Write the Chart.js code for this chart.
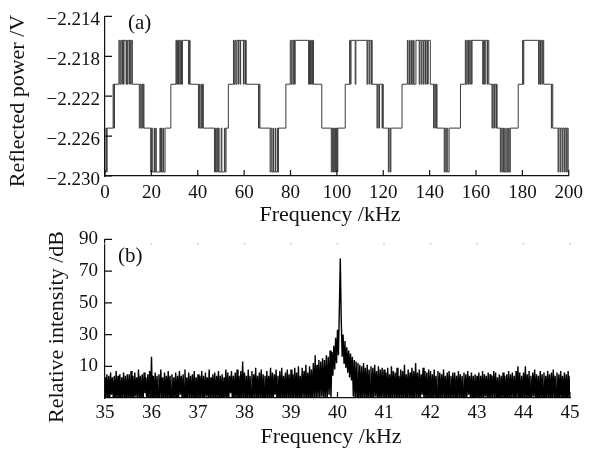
<!DOCTYPE html>
<html>
<head>
<meta charset="utf-8">
<script src="https://cdn.jsdelivr.net/npm/chart.js@4.4.1/dist/chart.umd.min.js"></script>
<style>
  html, body { margin: 0; padding: 0; background: #fff; }
  #wrap { position: relative; width: 589px; height: 451px; overflow: hidden; background: #fff; }
  canvas { position: absolute; left: 0; }
  #ca { top: 0; }
  #cb { top: 221px; }
</style>
</head>
<body>
<div id="wrap">
  <canvas id="ca" width="589" height="232"></canvas>
  <canvas id="cb" width="589" height="230"></canvas>
</div>
<script>
// ---- (a) reflected power: quantised levels and the switching points ----
const levelVolts = [-2.2164, -2.2208, -2.2252, -2.2296]; // level 1 (top) .. 4 (bottom)

// frequency (kHz) at which the trace switches, and the level it switches to
const stepFreq = [
  0, 0.4, 0.7, 0.9,
  3.5, 3.8, 4.1,
  6.0, 6.4, 6.8, 7.3, 7.5, 8.0, 8.2, 9.1, 9.3, 9.6, 9.9, 10.5, 10.7, 11.1, 11.3, 11.8,
  14.8, 15.2, 15.6, 16.0, 16.3, 16.5, 16.8,
  19.7, 20.0, 20.4, 21.2, 21.4, 21.9, 22.1, 23.7, 23.9, 24.4, 24.6, 25.1, 25.3, 25.9,
  28.4,
  30.6, 30.9, 31.3, 31.7, 32.0, 32.4, 32.7, 33.0, 33.4,
  36.0, 36.4, 36.7,
  40.3, 40.7, 41.0, 41.5, 41.8, 42.1, 42.4,
  47.2, 47.6, 47.8, 48.2, 48.6, 48.9, 49.2, 50.1, 50.4, 51.5, 51.8, 52.2,
  53.2,
  55.4, 55.7, 56.1, 56.5, 56.9, 57.5, 57.7, 58.3, 58.5, 59.7, 59.9, 60.4, 60.6, 60.9,
  66.2, 66.5, 66.8,
  71.2, 71.6, 72.0, 72.5, 72.7, 73.4, 73.6, 74.3, 74.5, 74.8,
  78.0,
  79.9, 80.3, 80.7, 81.2, 81.5, 81.8, 82.0,
  87.8, 88.2, 88.6, 89.0, 89.4, 89.6, 89.9,
  93.5,
  97.6, 97.9, 98.2, 98.6, 98.9, 99.3, 99.5, 99.8, 100.2, 100.4,
  103.6,
  105.5, 105.8, 106.1, 107.9, 108.2,
  113.0, 113.3, 113.9, 114.2, 114.8, 115.0, 115.2,
  117.3, 117.6, 118.1, 118.4, 119.5, 119.7, 120.0,
  122.2, 122.5, 123.0, 123.3,
  128.1,
  130.4, 130.7, 131.3, 131.6, 132.2, 132.5, 133.0, 133.3, 134.1,
  135.5, 135.8, 136.4, 136.7, 137.3, 137.6, 138.2, 138.5, 139.1, 139.4, 140.3,
  141.7, 142.0, 142.6, 142.9, 143.2,
  146.3, 146.6, 147.0, 147.4, 147.8, 148.4,
  153.3,
  155.4, 155.7, 156.1, 156.5, 156.8, 157.3, 157.5, 158.0, 158.3,
  162.9, 163.2, 163.7, 164.0, 164.8, 165.0, 165.5,
  166.9, 167.2, 167.7, 168.0, 168.6, 168.8, 169.1,
  170.5, 170.8, 171.2, 171.6, 171.9, 172.4, 172.6, 173.3, 173.5, 174.1, 174.3, 174.8,
  178.2,
  180.1, 180.3, 180.6,
  187.0, 187.3, 187.8, 188.1, 188.6, 188.9, 189.2,
  192.5, 192.7, 193.1,
  195.4, 195.7, 196.3, 196.6, 197.2, 197.5, 198.1, 198.4, 198.9, 199.2, 199.6, 200
];
const stepLevel = [
  4, 3, 4, 3,
  2, 3, 2,
  1, 2, 1, 2, 1, 2, 1, 2, 1, 2, 1, 2, 1, 2, 1, 2,
  3, 2, 3, 2, 3, 2, 3,
  4, 3, 4, 3, 4, 3, 4, 3, 4, 3, 4, 3, 4, 3,
  2,
  1, 2, 1, 2, 1, 2, 1, 2, 1,
  2, 1, 2,
  3, 2, 3, 2, 3, 2, 3,
  4, 3, 4, 3, 4, 3, 4, 3, 4, 3, 4, 3,
  2,
  1, 2, 1, 2, 1, 2, 1, 2, 1, 2, 1, 2, 1, 2,
  3, 2, 3,
  4, 3, 4, 3, 4, 3, 4, 3, 4, 3,
  2,
  1, 2, 1, 2, 1, 2, 1,
  2, 1, 2, 1, 2, 1, 2,
  3,
  4, 3, 4, 3, 4, 3, 4, 3, 4, 3,
  2,
  1, 2, 1, 2, 1,
  2, 1, 2, 1, 2, 1, 2,
  3, 2, 3, 2, 3, 2, 3,
  4, 3, 4, 3,
  2,
  1, 2, 1, 2, 1, 2, 1, 2, 1,
  2, 1, 2, 1, 2, 1, 2, 1, 2, 1, 2,
  3, 2, 3, 2, 3,
  4, 3, 4, 3, 4, 3,
  2,
  1, 2, 1, 2, 1, 2, 1, 2, 1,
  2, 1, 2, 1, 2, 1, 2,
  3, 2, 3, 2, 3, 2, 3,
  4, 3, 4, 3, 4, 3, 4, 3, 4, 3, 4, 3,
  2,
  1, 2, 1,
  2, 1, 2, 1, 2, 1, 2,
  3, 2, 3,
  4, 3, 4, 3, 4, 3, 4, 3, 4, 3, 4, 3
];
const aTicksX = [0, 20, 40, 60, 80, 100, 120, 140, 160, 180, 200];
const aTicksY = [-2.230, -2.226, -2.222, -2.218, -2.214];

// ---- (b) spectrum around 40 kHz (dB), sampled every 0.02 kHz from 35 kHz ----
const specStart = 35;
const specStep = 0.02;
const specDb = [
  3,-12,5,-11,4,-13,6,-8,3,-12,4,-14,7,-11,4,-12,5,-13,3,-10,6,-12,4,-13,5,
  -11,5,-13,7,-12,4,-14,6,-9,3,-12,8,-11,4,-13,5,-12,6,-7,3,-14,5,-12,7,-11,
  16,-12,4,-13,6,-11,4,-14,5,-12,8,-10,3,-13,6,-12,4,-11,7,-13,4,-14,5,-12,3,
  -11,6,-13,4,-12,7,-8,4,-13,5,-11,8,-14,3,-12,6,-10,4,-13,5,-12,7,-14,3,-11,
  5,-13,4,-11,7,-12,4,-14,6,-9,3,-12,8,-13,3,-11,5,-12,6,-13,4,-10,7,-14,4,
  -12,5,-13,3,-11,8,-14,6,-12,4,-7,7,-13,4,-12,6,-11,8,-13,4,-12,7,-14,13,-11,
  6,-12,4,-13,8,-11,4,-14,7,-12,5,-10,9,-13,4,-12,6,-11,8,-14,5,-12,4,-13,7,
  -12,4,-11,9,-13,6,-12,5,-8,8,-14,4,-12,7,-13,9,-11,4,-12,6,-13,8,-10,5,-14,
  8,-12,5,-13,9,-11,6,-14,10,-12,4,-13,9,-10,7,-12,11,-13,6,-11,10,-14,8,-12,12,
  -11,17,-13,11,-10,14,-12,13,-9,15,-13,14,-11,17,-12,16,-8,20,-10,19,4,23,8,28,12,
  33,17,46,78,40,16,30,12,26,9,22,6,20,3,18,1,16,-9,14,-12,13,-11,12,-13,11,
  -12,10,-13,12,-10,9,-14,11,-12,8,-11,10,-13,9,-12,11,-9,7,-13,10,-14,8,-11,9,-12,
  8,-13,6,-11,9,-12,5,-14,10,-12,7,-10,6,-13,9,-12,4,-11,8,-13,7,-12,11,-14,5,
  -12,8,-11,6,-13,9,-12,7,-14,12,-10,6,-13,8,-12,5,-8,9,-13,7,-11,6,-14,8,-12,
  7,-13,5,-12,8,-11,4,-14,7,-12,6,-13,5,-10,8,-12,4,-13,6,-11,7,-14,4,-12,6,
  -11,6,-13,4,-12,7,-10,5,-14,4,-12,6,-13,5,-11,7,-8,4,-12,6,-13,4,-14,5,-12,
  4,-12,6,-13,4,-11,7,-14,5,-9,4,-12,6,-13,5,-11,4,-12,7,-10,6,-13,3,-12,5,
  -13,4,-11,6,-12,4,-14,5,-12,7,-13,5,-10,6,-12,4,-13,7,-11,10,-12,6,-14,4,-11,
  6,-12,10,-13,5,-11,7,-14,4,-12,6,-9,8,-13,5,-12,4,-14,7,-11,5,-12,6,-13,4,
  -12,7,-11,5,-13,6,-12,8,-10,4,-13,6,-14,5,-12,7,-11,4,-13,6,-12,5,-14,7,-11,
  4
];
const bTicksX = [35, 36, 37, 38, 39, 40, 41, 42, 43, 44, 45];
const bTicksY = [10, 30, 50, 70, 90];

// ---- shared styling ----
const SERIF = '"Liberation Serif", "Times New Roman", serif';
const INK = '#111';
const tickFont = { family: SERIF, size: 19 };

function minusFmt(v, digits) {
  const s = Math.abs(v).toFixed(digits);
  return (v < 0 ? '\u2212' : '') + s;
}

// inward tick marks, panel tag and axis titles
function framePlugin(cfg) {
  return {
    id: 'frame_' + cfg.name,
    afterDraw(chart) {
      const { ctx, chartArea: a, scales: { x, y } } = chart;
      ctx.save();
      ctx.strokeStyle = INK;
      ctx.lineWidth = 1.2;
      ctx.beginPath();
      x.ticks.forEach(t => {
        const p = x.getPixelForValue(t.value);
        ctx.moveTo(p, a.bottom);
        ctx.lineTo(p, a.bottom - cfg.xTick);
      });
      y.ticks.forEach(t => {
        const p = y.getPixelForValue(t.value);
        ctx.moveTo(a.left, p);
        ctx.lineTo(a.left + cfg.yTick, p);
      });
      ctx.stroke();

      if (cfg.topDots) {
        ctx.fillStyle = '#c4c4c4';
        x.ticks.forEach(t => {
          const p = x.getPixelForValue(t.value);
          ctx.fillRect(p - 0.75, a.top + 3.5, 1.5, 1.5);
        });
      }

      ctx.fillStyle = INK;
      ctx.textBaseline = 'middle';
      ctx.textAlign = 'left';
      ctx.font = '21px ' + SERIF;
      ctx.fillText(cfg.panel, a.left + cfg.panelDx, a.top + cfg.panelDy);

      ctx.font = '22px ' + SERIF;
      ctx.textAlign = 'center';
      ctx.fillText(cfg.xTitle, cfg.xTitleAt[0], cfg.xTitleAt[1]);
      ctx.translate(cfg.yTitleAt[0], cfg.yTitleAt[1]);
      ctx.rotate(-Math.PI / 2);
      ctx.fillText(cfg.yTitle, 0, 0);
      ctx.restore();
    }
  };
}

function axisX(min, max, ticks, height, pad) {
  return {
    type: 'linear', min, max,
    afterBuildTicks: s => { s.ticks = ticks.map(v => ({ value: v })); },
    afterFit: s => { s.height = height; },
    grid: { display: false, drawTicks: false },
    border: { display: true, color: INK, width: 1.2 },
    ticks: { font: tickFont, color: INK, padding: pad, maxRotation: 0, autoSkip: false,
             callback: v => String(v) }
  };
}

function axisY(min, max, ticks, pad, shift, fmt) {
  return {
    type: 'linear', min, max,
    afterBuildTicks: s => { s.ticks = ticks.map(v => ({ value: v })); },
    afterFit: s => { s.width = 105; },
    grid: { display: false, drawTicks: false },
    border: { display: true, color: INK, width: 1.2 },
    ticks: { font: tickFont, color: INK, padding: pad, labelOffset: shift, autoSkip: false, callback: fmt }
  };
}

const baseOpts = {
  responsive: false,
  animation: false,
  events: [],
  plugins: { legend: { display: false }, tooltip: { enabled: false } }
};

// ---- (a) ----
const ptsA = stepFreq.map((f, i) => ({ x: f, y: levelVolts[stepLevel[i] - 1] }));
new Chart(document.getElementById('ca'), {
  type: 'line',
  data: { datasets: [{
    data: ptsA, stepped: true, borderColor: '#3a3a3a', borderWidth: 1,
    pointRadius: 0, fill: false, tension: 0
  }] },
  options: Object.assign({}, baseOpts, {
    layout: { padding: { top: 15, right: 20, left: 0, bottom: 0 } },
    scales: {
      x: axisX(0, 200, aTicksX, 56, 6),
      y: axisY(-2.230, -2.214, aTicksY, 5, 4, v => minusFmt(v, 3))
    }
  }),
  plugins: [framePlugin({
    name: 'a', xTick: 6, yTick: 7, panel: '(a)', panelDx: 23, panelDy: 7,
    xTitle: 'Frequency /kHz', xTitleAt: [330, 215],
    yTitle: 'Reflected power /V', yTitleAt: [18, 101]
  })]
});

// ---- (b) ----
const ptsB = specDb.map((v, i) => ({ x: +(specStart + i * specStep).toFixed(2), y: v }));
new Chart(document.getElementById('cb'), {
  type: 'line',
  data: { datasets: [{
    data: ptsB, borderColor: '#000', borderWidth: 1.4,
    pointRadius: 0, fill: false, tension: 0
  }] },
  options: Object.assign({}, baseOpts, {
    layout: { padding: { top: 15, right: 19, left: 0, bottom: 0 } },
    scales: {
      x: axisX(35, 45, bTicksX, 53, 4),
      y: axisY(-10, 90, bTicksY, 7, 0, v => String(v))
    }
  }),
  plugins: [framePlugin({
    name: 'b', xTick: 6, yTick: 7, topDots: true, panel: '(b)', panelDx: 13, panelDy: 17,
    xTitle: 'Frequency /kHz', xTitleAt: [331, 216],
    yTitle: 'Relative intensity /dB', yTitleAt: [57, 106]
  })]
});
</script>
</body>
</html>
